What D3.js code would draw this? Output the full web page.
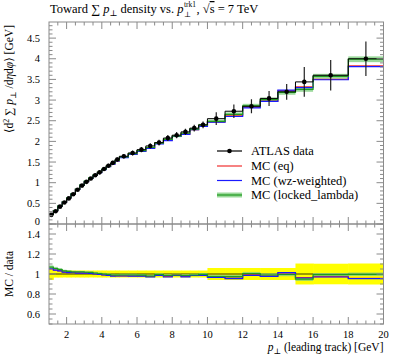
<!DOCTYPE html>
<html><head><meta charset="utf-8">
<script src="https://cdn.jsdelivr.net/npm/d3@7"></script>
<style>
body{margin:0;background:#fff;}
svg{display:block;font-family:"Liberation Serif","DejaVu Serif",serif;}
</style></head>
<body><svg id="c" width="397" height="358"></svg>
<script>
// ---- data ----
const binEdges = [1,1.25,1.5,1.75,2,2.25,2.5,2.75,3,3.25,3.5,3.75,4,4.25,4.5,4.75,5,5.5,6,6.5,7,7.5,8,8.5,9,9.5,10,11,12,13,14,15,16,18,20];
const dataVals = [0.22,0.31,0.42,0.52,0.62,0.72,0.83,0.93,1.02,1.10,1.18,1.25,1.33,1.41,1.48,1.56,
  1.64,1.72,1.80,1.89,1.97,2.08,2.15,2.23,2.32,2.40,
  2.55,2.73,2.85,3.04,3.20,3.44,3.60,4.00];
const dataErr = [0.013,0.011,0.015,0.018,0.022,0.025,0.029,0.033,0.036,0.038,0.041,0.044,0.047,0.049,0.052,0.055,
  0.057,0.060,0.063,0.066,0.069,0.073,0.075,0.078,0.081,0.084,
  0.153,0.164,0.171,0.182,0.192,0.36,0.37,0.42];
const mcEq = [0.231,0.322,0.433,0.530,0.629,0.731,0.840,0.939,1.028,1.106,1.180,1.248,1.319,1.393,1.455,1.529,
  1.610,1.686,1.764,1.843,1.950,2.028,2.124,2.174,2.285,2.376,
  2.474,2.621,2.830,2.973,3.232,3.320,3.503,3.828];
const mcWz = [0.232,0.322,0.433,0.530,0.629,0.729,0.838,0.939,1.028,1.106,1.180,1.244,1.317,1.389,1.450,1.529,
  1.607,1.682,1.760,1.833,1.940,2.018,2.118,2.168,2.285,2.364,
  2.466,2.602,2.813,2.967,3.242,3.302,3.492,3.812];
const mcLl = [0.235,0.327,0.439,0.536,0.636,0.736,0.847,0.949,1.038,1.117,1.192,1.256,1.330,1.403,1.465,1.541,
  1.624,1.703,1.778,1.852,1.960,2.049,2.129,2.197,2.297,2.393,
  2.486,2.656,2.859,3.010,3.184,3.261,3.575,3.988];
const mcLlErr = [0.004,0.005,0.006,0.006,0.007,0.008,0.009,0.010,0.011,0.012,0.013,0.014,0.015,0.016,0.017,0.018,
  0.020,0.021,0.022,0.023,0.025,0.026,0.027,0.028,0.030,0.031,
  0.040,0.045,0.050,0.050,0.055,0.060,0.060,0.070];
const xTicks = [2,4,6,8,10,12,14,16,18,20];
const yTicks = [0,0.5,1,1.5,2,2.5,3,3.5,4,4.5];
const rTicks = [0.6,0.8,1,1.2,1.4];
const legendLabels = ["ATLAS data","MC (eq)","MC (wz-weighted)","MC (locked_lambda)"];

const C = {red:"#f03030", blue:"#1a1aff", green:"#1f9a1f", band:"#7fce7f", yellow:"#ffff00", frame:"#8a8a8a"};

// ---- layout ----
const L=49, R=383.5, T=22, M=224, B=324;
const svg = d3.select("#c");
const x = d3.scaleLinear().domain([1,20]).range([L,R]);
const y = d3.scaleLinear().domain([0,4.89]).range([M,T]);
const yr = d3.scaleLinear().domain([0.5,1.5]).range([B,M]);

const bins = dataVals.map((d,i)=>({lo:binEdges[i],hi:binEdges[i+1],mid:(binEdges[i]+binEdges[i+1])/2,d,e:dataErr[i],eq:mcEq[i],wz:mcWz[i],ll:mcLl[i],lle:mcLlErr[i]}));

function stepPts(key, sc){
  const f = typeof key==="function"?key:(b=>b[key]);
  const pts=[];
  bins.forEach(b=>{pts.push([x(b.lo),sc(f(b))]);pts.push([x(b.hi),sc(f(b))]);});
  return pts;
}
const line = d3.line();

svg.append("clipPath").attr("id","cm").append("rect").attr("x",L).attr("y",T).attr("width",R-L).attr("height",M-T);
svg.append("clipPath").attr("id","cr").append("rect").attr("x",L).attr("y",M).attr("width",R-L).attr("height",B-M);

// ---- main panel ----
const gm = svg.append("g").attr("clip-path","url(#cm)");
gm.selectAll(".llb").data(bins).join("rect")
  .attr("x",b=>x(b.lo)).attr("width",b=>x(b.hi)-x(b.lo))
  .attr("y",b=>y(b.ll+b.lle)).attr("height",b=>y(b.ll-b.lle)-y(b.ll+b.lle))
  .attr("fill",C.band).attr("opacity",0.8);
[["eq",C.red],["wz",C.blue],["ll",C.green]].forEach(([k,c])=>{
  gm.append("path").attr("d",line(stepPts(k,y))).attr("fill","none").attr("stroke",c).attr("stroke-width",1.2);
});
gm.append("path").attr("d",line(stepPts("d",y))).attr("fill","none").attr("stroke","#000").attr("stroke-width",1);
gm.selectAll(".eb").data(bins).join("line")
  .attr("x1",b=>x(b.mid)).attr("x2",b=>x(b.mid)).attr("y1",b=>y(b.d-b.e)).attr("y2",b=>y(b.d+b.e))
  .attr("stroke","#222").attr("stroke-width",1.2);
gm.selectAll(".pt").data(bins).join("circle")
  .attr("cx",b=>x(b.mid)).attr("cy",b=>y(b.d)).attr("r",2.3).attr("fill","#000");

// ---- ratio panel ----
const gr = svg.append("g").attr("clip-path","url(#cr)");
gr.selectAll(".yb").data(bins).join("rect")
  .attr("x",b=>x(b.lo)).attr("width",b=>x(b.hi)-x(b.lo)+0.5)
  .attr("y",b=>yr(1+b.e/b.d)).attr("height",b=>yr(1-b.e/b.d)-yr(1+b.e/b.d))
  .attr("fill",C.yellow);
gr.append("line").attr("x1",L).attr("x2",R).attr("y1",yr(1)).attr("y2",yr(1)).attr("stroke","#000").attr("stroke-width",0.8);
gr.selectAll(".rb").data(bins).join("rect")
  .attr("x",b=>x(b.lo)).attr("width",b=>x(b.hi)-x(b.lo))
  .attr("y",b=>yr((b.ll+b.lle)/b.d)).attr("height",b=>yr((b.ll-b.lle)/b.d)-yr((b.ll+b.lle)/b.d))
  .attr("fill",C.band).attr("opacity",0.8);
[["eq",C.red],["wz",C.blue],["ll",C.green]].forEach(([k,c])=>{
  gr.append("path").attr("d",line(stepPts(b=>b[k]/b.d,yr))).attr("fill","none").attr("stroke",c).attr("stroke-width",1.2);
});

// ---- frames & ticks ----
const fr = svg.append("g").attr("stroke",C.frame).attr("stroke-width",1).attr("fill","none");
fr.append("rect").attr("x",L).attr("y",T).attr("width",R-L).attr("height",M-T);
fr.append("rect").attr("x",L).attr("y",M).attr("width",R-L).attr("height",B-M);

function xTickMarks(yy, dir){
  x.ticks(38).filter(v=>v>1 && v<20).forEach(v=>{
    const maj = xTicks.includes(v);
    const len = maj?7:3.5;
    fr.append("line").attr("x1",x(v)).attr("x2",x(v)).attr("y1",yy).attr("y2",yy+dir*len);
  });
}
xTickMarks(T,1); xTickMarks(M,-1); xTickMarks(M,1); xTickMarks(B,-1);

function yTickMarks(sc, lo, hi, step, majors){
  const n = Math.round((hi-lo)/step);
  for(let i=0;i<=n;i++){
    const v = +(lo+i*step).toFixed(4);
    const maj = majors.some(m=>Math.abs(m-v)<1e-6);
    const len = maj?7:3.5;
    fr.append("line").attr("x1",L).attr("x2",L+len).attr("y1",sc(v)).attr("y2",sc(v));
    fr.append("line").attr("x1",R).attr("x2",R-len).attr("y1",sc(v)).attr("y2",sc(v));
  }
}
yTickMarks(y,0,4.8,0.1,yTicks);
yTickMarks(yr,0.5,1.5,0.05,rTicks);

// tick labels
const fs = 10.5;
svg.selectAll(".yl").data(yTicks).join("text").attr("x",40).attr("y",v=>y(v)+(v===0?1:3.5))
  .attr("text-anchor","end").attr("font-size",fs).text(v=>v);
svg.selectAll(".rl").data(rTicks).join("text").attr("x",40).attr("y",v=>yr(v)+3.5)
  .attr("text-anchor","end").attr("font-size",fs).text(v=>v);
svg.selectAll(".xl").data(xTicks).join("text").attr("x",v=>x(v)).attr("y",338)
  .attr("text-anchor","middle").attr("font-size",fs).text(v=>v);

// axis titles
const xt = svg.append("text").attr("x",R).attr("y",351).attr("text-anchor","end").attr("font-size",11.5);
xt.append("tspan").attr("font-style","italic").text("p");
xt.append("tspan").attr("font-size",8).attr("dy",2.5).text("⊥");
xt.append("tspan").attr("dy",-2.5).text(" (leading track) [GeV]");

const yt = svg.append("text").attr("transform","translate(13,25) rotate(-90)").attr("text-anchor","end").attr("font-size",11.5);
yt.append("tspan").text("⟨d");
yt.append("tspan").attr("font-size",8).attr("dy",-4).text("2");
yt.append("tspan").attr("dy",4).text(" ∑ ");
yt.append("tspan").attr("font-style","italic").text("p");
yt.append("tspan").attr("font-size",8).attr("dy",2.5).text("⊥");
yt.append("tspan").attr("dy",-2.5).text(" /d");
yt.append("tspan").attr("font-style","italic").text("η");
yt.append("tspan").text("d");
yt.append("tspan").attr("font-style","italic").text("φ");
yt.append("tspan").text("⟩ [GeV]");

svg.append("text").attr("transform","translate(13,274) rotate(-90)").attr("text-anchor","middle").attr("font-size",11.5).text("MC / data");

// title (stacked sub/superscript placed as separate texts to avoid overlap)
const tsz = 12.5, ssz = 7.5;
const tg = svg.append("g").attr("font-size",tsz);
const t1 = tg.append("text").attr("x",50).attr("y",13);
t1.append("tspan").text("Toward ∑ ");
t1.append("tspan").attr("font-style","italic").text("p");
t1.append("tspan").attr("font-size",8.5).attr("dy",2.5).text("⊥");
t1.append("tspan").attr("dy",-2.5).text(" density vs. ");
t1.append("tspan").attr("font-style","italic").text("p");
const w1 = t1.node().getComputedTextLength();
const sx = 50 + w1 + 0.5;
const sup = tg.append("text").attr("x",sx).attr("y",7).attr("font-size",ssz).text("trk1");
tg.append("text").attr("x",sx).attr("y",17).attr("font-size",ssz).text("⊥");
const supW = sup.node().getComputedTextLength();
const t2 = tg.append("text").attr("x",sx+supW+0.5).attr("y",13);
t2.append("tspan").text(", √");
t2.append("tspan").style("text-decoration","overline").text("s");
t2.append("tspan").text(" = 7 TeV");

// legend
const lg = svg.append("g");
const lx0=217, lx1=242, ltx=251, ly=[151,166,180.5,195];
lg.append("line").attr("x1",lx0).attr("x2",lx1).attr("y1",ly[0]).attr("y2",ly[0]).attr("stroke","#000").attr("stroke-width",1.2);
lg.append("circle").attr("cx",(lx0+lx1)/2).attr("cy",ly[0]).attr("r",2.3);
lg.append("line").attr("x1",lx0).attr("x2",lx1).attr("y1",ly[1]).attr("y2",ly[1]).attr("stroke",C.red).attr("stroke-width",1.2);
lg.append("line").attr("x1",lx0).attr("x2",lx1).attr("y1",ly[2]).attr("y2",ly[2]).attr("stroke",C.blue).attr("stroke-width",1.2);
lg.append("rect").attr("x",lx0).attr("width",lx1-lx0).attr("y",ly[3]-2.5).attr("height",5).attr("fill",C.band).attr("opacity",0.8);
lg.append("line").attr("x1",lx0).attr("x2",lx1).attr("y1",ly[3]).attr("y2",ly[3]).attr("stroke",C.green).attr("stroke-width",1.2);
lg.selectAll(".lt").data(legendLabels).join("text").attr("x",ltx).attr("y",(d,i)=>ly[i]+4).attr("font-size",12.5).text(d=>d);
</script></body></html>
